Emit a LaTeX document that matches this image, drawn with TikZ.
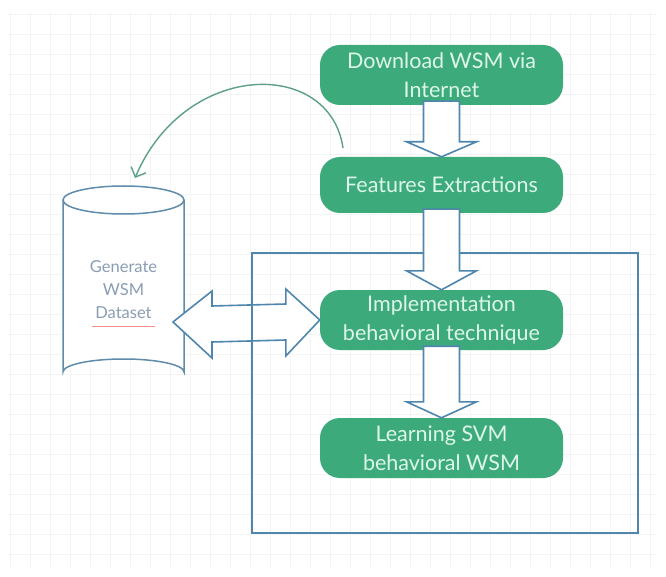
\documentclass[tikz,border=0pt]{standalone}
\usepackage{fontspec}
\setmainfont{Lato}
\usetikzlibrary{calc,arrows.meta}
\definecolor{nodegreen}{HTML}{3DAA7C}
\definecolor{nodetext}{HTML}{DDF7EA}
\definecolor{lineblue}{HTML}{4F86AE}
\definecolor{cylblue}{HTML}{5F8CAB}
\definecolor{cyltext}{HTML}{8A9DB3}
\definecolor{curvegreen}{HTML}{5E9F88}
\definecolor{gridc}{HTML}{F4F4F4}
\tikzset{
  procbox/.style={draw=none,fill=nodegreen,rounded corners=20pt,minimum width=243pt,
    text=nodetext,align=center,font=\fontsize{21.5}{29}\selectfont,inner sep=0pt},
  blockarrow/.style={draw=lineblue,fill=white,line width=1.6pt,line join=miter},
  frame/.style={draw=lineblue,line width=1.6pt},
  cyl/.style={draw=cylblue,line width=1.5pt,fill=white},
}
\newcommand\blockdown[3]{%
  \draw[blockarrow] ($(#1.south)+(-18,-4)$) -- ($(#2.north)+(-18,-#3)$) -- ($(#2.north)+(-35,-#3)$)
   -- (#2.north) -- ($(#2.north)+(35,-#3)$) -- ($(#2.north)+(18,-#3)$) -- ($(#1.south)+(18,-4)$) -- cycle;}
\begin{document}
\begin{tikzpicture}[x=1pt,y=-1pt]
\useasboundingbox (0,0) rectangle (666,577);
\fill[white] (0,0) rectangle (666,577);
\foreach \gx in {10,30,...,650} \draw[gridc,line width=0.6pt] (\gx,12) -- (\gx,568);
\foreach \gy in {14,34,...,566} \draw[gridc,line width=0.6pt] (8,\gy) -- (656,\gy);

% cylinder
\draw[cyl] (63,200) -- (63,372) arc[start angle=180,end angle=360,x radius=60.5,y radius=13] -- (184,200);
\draw[cyl] (123.5,200) ellipse[x radius=60.5,y radius=14];
\node[text=cyltext,align=center,font=\fontsize{16.5}{23}\selectfont] (gen) at (123.5,290) {Generate\\WSM\\Dataset};
\draw[red!45,line width=0.8pt] (92,326) -- (155,326);

% process nodes
\node[procbox,minimum height=60pt] (dl) at (441.5,75) {Download WSM via\\Internet};
\node[procbox,minimum height=56pt] (fe) at (441.5,185) {Features Extractions};
\node[procbox,minimum height=60pt] (im) at (441.5,320) {Implementation\\behavioral technique};
\node[procbox,minimum height=60pt] (le) at (441.5,448) {Learning SVM\\behavioral WSM};

% double arrow
\coordinate (cylR) at (173,322);
\draw[blockarrow] (cylR) -- ($(cylR)+(39,-31)$) -- ($(cylR)+(39,-16)$) -- ($(im.west)+(-34,-16)$)
  -- ($(im.west)+(-34,-31)$) -- (im.west) -- ($(im.west)+(-34,36)$) -- ($(im.west)+(-34,20)$)
  -- ($(cylR)+(39,20)$) -- ($(cylR)+(39,36)$) -- cycle;

% frame
\draw[frame] (252,253) rectangle (638,533);

% block arrows
\blockdown{dl}{fe}{15}
\blockdown{fe}{im}{19}
\blockdown{im}{le}{16}

% curved arrow
\coordinate (cs) at (343,148);
\coordinate (ce) at (135,178);
\draw[curvegreen,line width=1.4pt,-{Straight Barb[length=8pt,width=16pt,line width=1.4pt]}]
  (cs) .. controls (330,58) and (185,60) .. (ce);
\end{tikzpicture}
\end{document}
